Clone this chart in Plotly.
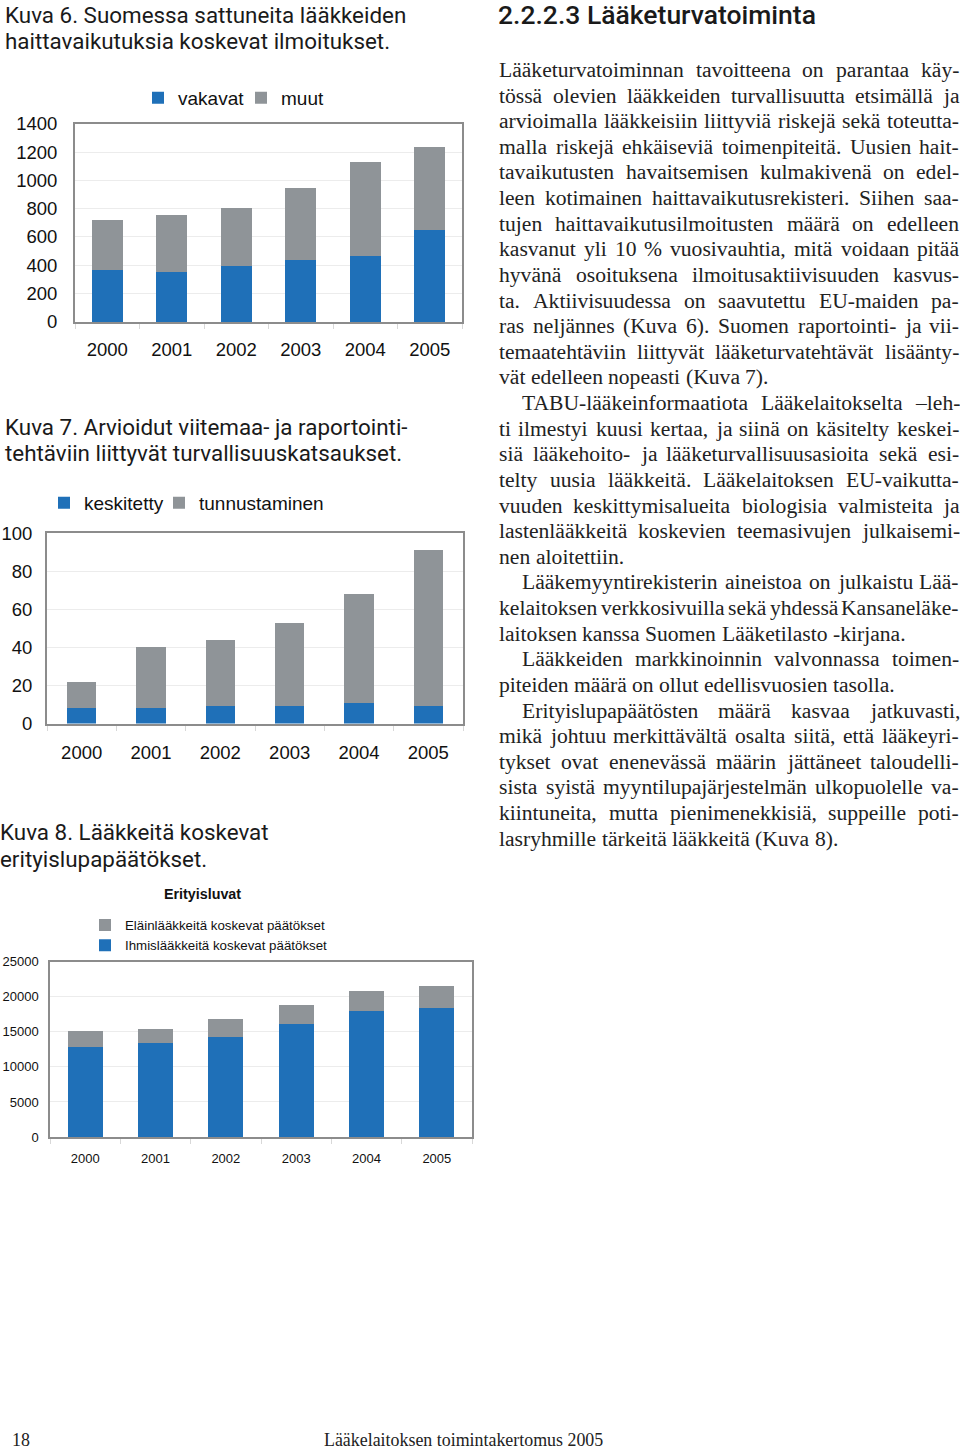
import plotly.graph_objects as go

W = 960
H = 1449
# the page shows the figure with an 8px top offset and a slight vertical squeeze;
# positions below are given in reference-image pixels and mapped accordingly
SQ = 0.98908
OFF = 7.9

years = ["2000", "2001", "2002", "2003", "2004", "2005"]

# Kuva 6
vakavat = [365, 355, 392, 440, 468, 652]
muut = [355, 397, 416, 503, 664, 582]

# Kuva 7
keskitetty = [8, 8, 9, 9, 11, 9]
tunnustaminen = [14, 32, 35, 44, 57, 82]

# Kuva 8
ihmis = [12850, 13370, 14270, 16100, 17940, 18460]
elain = [2260, 2070, 2540, 2730, 2920, 3010]

BLUE = "#1f70b8"
GRAY = "#8f9498"
FRAME = "#8c8c8c"
GRID = "#ececec"


def px(x):
    return x / W


def py(y):
    return 1 - ((y - OFF) / SQ) / H


fig = go.Figure()

fig.add_trace(go.Bar(x=years, y=vakavat, name="vakavat", marker_color=BLUE, width=0.48,
                     xaxis="x", yaxis="y", legend="legend", legendwidth=58))
fig.add_trace(go.Bar(x=years, y=muut, name="muut", marker_color=GRAY, width=0.48,
                     xaxis="x", yaxis="y", legend="legend", legendwidth=70))

fig.add_trace(go.Bar(x=years, y=keskitetty, name="keskitetty", marker_color=BLUE, width=0.42,
                     xaxis="x2", yaxis="y2", legend="legend2", legendwidth=70))
fig.add_trace(go.Bar(x=years, y=tunnustaminen, name="tunnustaminen", marker_color=GRAY, width=0.42,
                     xaxis="x2", yaxis="y2", legend="legend2", legendwidth=140))

fig.add_trace(go.Bar(x=years, y=ihmis, name="Ihmislääkkeitä koskevat päätökset", marker_color=BLUE,
                     width=0.5, xaxis="x3", yaxis="y3", legend="legend3"))
fig.add_trace(go.Bar(x=years, y=elain, name="Eläinlääkkeitä koskevat päätökset", marker_color=GRAY,
                     width=0.5, xaxis="x3", yaxis="y3", legend="legend3"))

for t in fig.data:
    t.marker.line.width = 0


def xaxis_cfg(x0, x1, anchor, fsize, standoff, lw=2):
    return dict(domain=[px(x0), px(x1)], anchor=anchor, type="category",
                showline=True, linecolor=FRAME, linewidth=lw, mirror=True,
                ticks="outside", tickson="boundaries", ticklen=5, tickcolor="#d8d8d8",
                tickfont=dict(family="Liberation Sans", size=fsize, color="#111"),
                ticklabelstandoff=standoff, showgrid=False, range=[-0.5, 5.5], fixedrange=True)


def yaxis_cfg(y_top, y_bot, anchor, rng, dtick, fsize, standoff, lw=2):
    return dict(domain=[py(y_bot), py(y_top)], anchor=anchor, range=rng, dtick=dtick,
                showline=True, linecolor=FRAME, linewidth=lw, mirror=True,
                showgrid=True, gridcolor=GRID, gridwidth=1, zeroline=False, ticks="",
                tickformat="d",
                tickfont=dict(family="Liberation Sans", size=fsize, color="#111"),
                ticklabelstandoff=standoff, fixedrange=True)


legend_font = dict(family="Liberation Sans", color="#111")

fig.update_layout(
    width=W, height=H, margin=dict(l=0, r=0, t=0, b=0),
    paper_bgcolor="white", plot_bgcolor="white",
    barmode="stack", showlegend=True,
    xaxis=xaxis_cfg(75, 462, "y", 18.5, 10),
    yaxis=yaxis_cfg(121, 320, "x", [0, 1400], 200, 18.5, 12),
    xaxis2=xaxis_cfg(47, 463, "y2", 18.5, 11),
    yaxis2=yaxis_cfg(532, 723, "x2", [0, 100], 20, 18.5, 9),
    xaxis3=xaxis_cfg(50, 472, "y3", 13, 9, lw=1.5),
    yaxis3=yaxis_cfg(962, 1138, "x3", [0, 25000], 5000, 13, 7, lw=1.5),
    legend=dict(x=px(138), y=py(95), xanchor="left", yanchor="middle", orientation="h",
                font=dict(size=19, **legend_font), bgcolor="rgba(0,0,0,0)",
                traceorder="normal", itemwidth=30),
    legend2=dict(x=px(44), y=py(501.5), xanchor="left", yanchor="middle", orientation="h",
                 font=dict(size=19, **legend_font), bgcolor="rgba(0,0,0,0)",
                 traceorder="normal", itemwidth=30),
    legend3=dict(x=px(85), y=py(935.5), xanchor="left", yanchor="middle", orientation="v",
                 font=dict(size=13.3, **legend_font), bgcolor="rgba(0,0,0,0)",
                 traceorder="reversed", itemwidth=30, tracegroupgap=0),
)

annotations = []


def text(x, y, s, size, family, color="#1a1a1a", weight=None, xanchor="left"):
    f = dict(size=size, family=family, color=color)
    if weight:
        f["weight"] = weight
    annotations.append(dict(x=px(x), y=py(y), xref="paper", yref="paper", text=s,
                            showarrow=False, xanchor=xanchor, yanchor="middle",
                            font=f))


CAP = "Roboto"
CS = 22.4
text(3, 11.5, "Kuva 6. Suomessa sattuneita lääkkeiden", CS, CAP)
text(3, 38, "haittavaikutuksia koskevat ilmoitukset.", CS, CAP)
text(3, 425.5, "Kuva 7. Arvioidut viitemaa- ja raportointi-", CS, CAP)
text(3, 452, "tehtäviin liittyvät turvallisuuskatsaukset.", CS, CAP)
text(-2, 832, "Kuva 8. Lääkkeitä koskevat", CS, CAP)
text(-2, 858.5, "erityislupapäätökset.", CS, CAP)

text(202, 894, "<b>Erityisluvat</b>", 14.3, "Liberation Sans", color="#111", xanchor="center")

text(496, 11, "2.2.2.3 Lääketurvatoiminta", 26.5, CAP, weight=500)

# body text: (indent, justified, line)
body = [
    (0, 1, "Lääketurvatoiminnan tavoitteena on parantaa käy-"),
    (0, 1, "tössä olevien lääkkeiden turvallisuutta etsimällä ja"),
    (0, 1, "arvioimalla lääkkeisiin liittyviä riskejä sekä toteutta-"),
    (0, 1, "malla riskejä ehkäiseviä toimenpiteitä. Uusien hait-"),
    (0, 1, "tavaikutusten havaitsemisen kulmakivenä on edel-"),
    (0, 1, "leen kotimainen haittavaikutusrekisteri. Siihen saa-"),
    (0, 1, "tujen haittavaikutusilmoitusten määrä on edelleen"),
    (0, 1, "kasvanut yli 10 % vuosivauhtia, mitä voidaan pitää"),
    (0, 1, "hyvänä osoituksena ilmoitusaktiivisuuden kasvus-"),
    (0, 1, "ta. Aktiivisuudessa on saavutettu EU-maiden pa-"),
    (0, 1, "ras neljännes (Kuva 6). Suomen raportointi- ja vii-"),
    (0, 1, "temaatehtäviin liittyvät lääketurvatehtävät lisäänty-"),
    (0, 0, "vät edelleen nopeasti (Kuva 7)."),
    (1, 1, "TABU-lääkeinformaatiota Lääkelaitokselta –leh-"),
    (0, 1, "ti ilmestyi kuusi kertaa, ja siinä on käsitelty keskei-"),
    (0, 1, "siä lääkehoito- ja lääketurvallisuusasioita sekä esi-"),
    (0, 1, "telty uusia lääkkeitä. Lääkelaitoksen EU-vaikutta-"),
    (0, 1, "vuuden keskittymisalueita biologisia valmisteita ja"),
    (0, 1, "lastenlääkkeitä koskevien teemasivujen julkaisemi-"),
    (0, 0, "nen aloitettiin."),
    (1, 1, "Lääkemyyntirekisterin aineistoa on julkaistu Lää-"),
    (0, 1, "kelaitoksen verkkosivuilla sekä yhdessä Kansaneläke-"),
    (0, 0, "laitoksen kanssa Suomen Lääketilasto -kirjana."),
    (1, 1, "Lääkkeiden markkinoinnin valvonnassa toimen-"),
    (0, 0, "piteiden määrä on ollut edellisvuosien tasolla."),
    (1, 1, "Erityislupapäätösten määrä kasvaa jatkuvasti,"),
    (0, 1, "mikä johtuu merkittävältä osalta siitä, että lääkeyri-"),
    (0, 1, "tykset ovat enenevässä määrin jättäneet taloudelli-"),
    (0, 1, "sista syistä myyntilupajärjestelmän ulkopuolelle va-"),
    (0, 1, "kiintuneita, mutta pienimenekkisiä, suppeille poti-"),
    (0, 0, "lasryhmille tärkeitä lääkkeitä (Kuva 8)."),
]

# approximate Times/Liberation Serif advance widths (per 1000 em) for justification
TW = {' ': 250, 'a': 444, 'b': 500, 'c': 444, 'd': 500, 'e': 444, 'f': 333, 'g': 500, 'h': 500,
      'i': 278, 'j': 278, 'k': 500, 'l': 278, 'm': 778, 'n': 500, 'o': 500, 'p': 500, 'q': 500,
      'r': 333, 's': 389, 't': 278, 'u': 500, 'v': 500, 'w': 722, 'x': 500, 'y': 500, 'z': 444,
      'ä': 444, 'ö': 500, 'å': 444,
      'A': 722, 'B': 667, 'C': 667, 'D': 722, 'E': 611, 'F': 556, 'G': 722, 'H': 722, 'I': 333,
      'J': 389, 'K': 722, 'L': 611, 'M': 889, 'N': 722, 'O': 722, 'P': 556, 'Q': 722, 'R': 667,
      'S': 556, 'T': 611, 'U': 722, 'V': 722, 'W': 944, 'X': 722, 'Y': 722, 'Z': 611,
      'Ä': 722, 'Ö': 722, '.': 250, ',': 250, '-': 333, '–': 500, '(': 333, ')': 333,
      '%': 833, ':': 278}


def wwidth(word, fs):
    return sum(TW.get(c, 500) for c in word) * fs / 1000.0


BODY_FS = 21.6
X0, X1 = 497, 957
for i, (ind, just, s) in enumerate(body):
    y = 67 + i * 25.72
    words = s.split(" ")
    x = X0 + ind * 23
    widths = [wwidth(w, BODY_FS) for w in words]
    if just and len(words) > 1:
        gap = (X1 - x - sum(widths)) / (len(words) - 1)
    else:
        gap = 0.25 * BODY_FS
    for w, wd in zip(words, widths):
        text(x, y, w, BODY_FS, "Liberation Serif", color="#222")
        x += wd + gap

text(10, 1442, "18", 17.9, "Liberation Serif", color="#222")
text(463, 1442, "Lääkelaitoksen toimintakertomus 2005", 17.9, "Liberation Serif", color="#222",
     xanchor="center")

fig.update_layout(annotations=annotations)

fig.write_html("out.html")
